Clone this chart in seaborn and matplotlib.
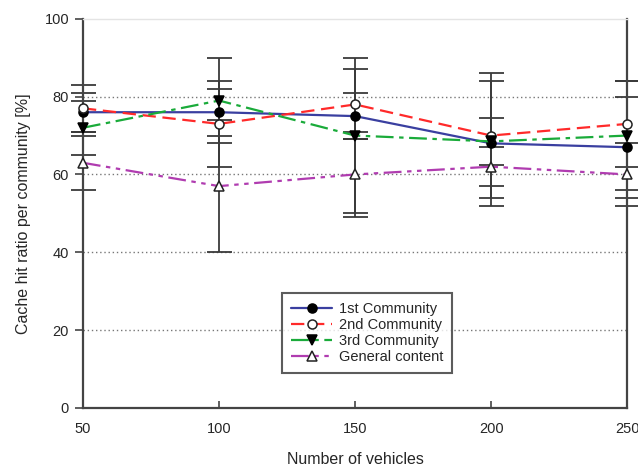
import numpy as np
import pandas as pd
import matplotlib
matplotlib.use("Agg")
import matplotlib.pyplot as plt
import seaborn as sns

# dane
vehicles = [50, 100, 150, 200, 250]
first_comm = [76, 76, 75, 68, 67]
second_comm = [77, 73, 78, 70, 73]
third_comm = [72, 79, 70, 68.5, 70]
general = [63, 57, 60, 62, 60]

first_err = [5, 6, 6, 16, 13]
second_err = [6, 11, 9, 16, 11]
third_err = [7, 11, 20, 6, 14]
general_err = [7, 17, 11, 5, 8]

labels = ["1st Community", "2nd Community", "3rd Community", "General content"]

sns.set_style("white")
plt.rcParams['font.family'] = ['Liberation Sans', 'DejaVu Sans']

fig, ax = plt.subplots(figsize=(6.38, 4.72), dpi=100)
fig.subplots_adjust(left=0.130, right=0.983, top=0.960, bottom=0.136)

series = [
    (first_comm, first_err, '#3a3fa0', '-', 'o', 'black', 'black'),
    (second_comm, second_err, '#ff2a2a', (0, (6, 3)), 'o', 'white', '#222222'),
    (third_comm, third_err, '#1aab3a', (0, (8, 2.5, 2, 2.5)), 'v', 'black', 'black'),
    (general, general_err, '#b03cb0', (0, (8, 2.5, 2, 2.5, 2, 2.5)), '^', 'white', '#222222'),
]

# słupki błędów najpierw (pod liniami)
for (vals, err, col, ls, mk, mfc, mec) in series:
    eb = ax.errorbar(vehicles, vals, yerr=err, fmt='none', ecolor='#3a3a3a',
                     elinewidth=1.3, capsize=9, capthick=1.3, zorder=2)
    for art in eb.lines[1] + eb.lines[2]:
        art.set_clip_on(False)

for (vals, err, col, ls, mk, mfc, mec), lab in zip(series, labels):
    sns.lineplot(x=vehicles, y=vals, ax=ax, color=col, linestyle=ls, linewidth=1.6,
                 marker=mk, markersize=6.5, markerfacecolor=mfc, markeredgecolor=mec,
                 markeredgewidth=1.1, label=lab, zorder=3, clip_on=False)

ax.set_xlim(50, 250)
ax.set_ylim(0, 100)
ax.set_xticks([50, 100, 150, 200, 250])
ax.set_yticks([0, 20, 40, 60, 80, 100])
for yv in [20, 40, 60, 80]:
    ax.axhline(yv, color='#777777', linestyle=(0, (1, 2)), linewidth=1, zorder=1)

ax.tick_params(axis='x', direction='in', length=5, width=1.2, labelsize=10.5, pad=10, color='#444444', bottom=True)
ax.tick_params(axis='y', direction='out', length=6, width=1.2, labelsize=10.5, pad=4, color='#444444', left=True)

for side in ['left', 'bottom', 'right']:
    ax.spines[side].set_color('#444444')
    ax.spines[side].set_linewidth(1.6)
ax.spines['top'].set_color('#e4e4e4')
ax.spines['top'].set_linewidth(1)

ax.set_xlabel('Number of vehicles', fontsize=11.5, labelpad=12)
ax.set_ylabel('Cache hit ratio per community [%]', fontsize=11.5, labelpad=10)

leg = ax.legend(loc='upper left', bbox_to_anchor=(0.353, 0.314), fontsize=10.5,
                frameon=True, fancybox=False, edgecolor='#333333', handlelength=2.8,
                labelspacing=0.15, borderpad=0.6, handletextpad=0.5)
leg.get_frame().set_linewidth(1.5)

fig.savefig('out.png', dpi=100)
